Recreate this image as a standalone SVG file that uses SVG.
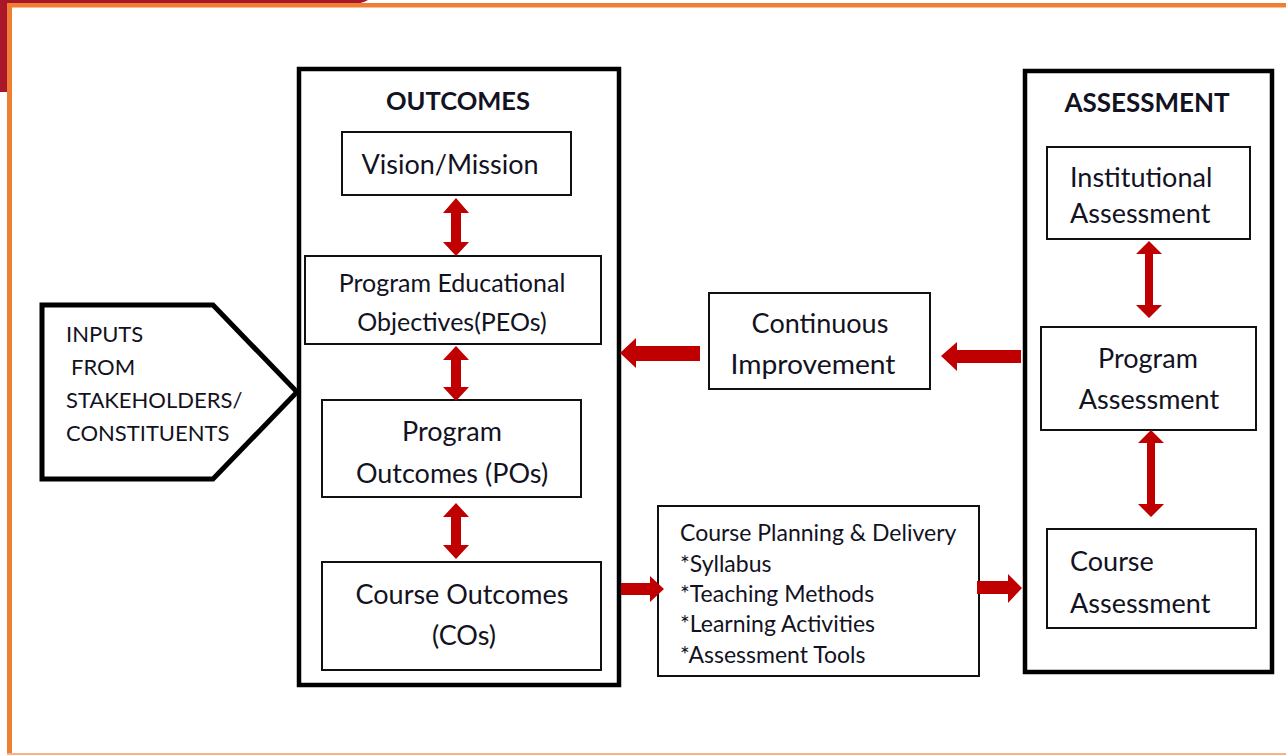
<svg xmlns="http://www.w3.org/2000/svg" width="1286" height="755" viewBox="0 0 1286 755">
<defs>
<style>
.t{font-family:Lato,"Open Sans","Liberation Sans",sans-serif;fill:#121222;}
.b{font-weight:bold;}
.m{text-anchor:middle;}
.f27{font-size:27px;}
.box{fill:#fff;stroke:#111;stroke-width:2;}
.big{fill:#fff;stroke:#000;stroke-width:4.5;}
.arr{fill:#c00000;}
</style>
</defs>
<rect width="1286" height="755" fill="#fff"/>
<path d="M0,0 H368 Q362,4 350,4 H10 V92 H0 Z" fill="#a8182a"/>
<rect x="7" y="3" width="1279" height="4.5" fill="#ef7f33"/>
<rect x="7" y="3" width="5" height="752" fill="#ef7f33"/>
<rect x="7" y="753" width="1279" height="2" fill="#f7b287"/>

<g id="inputs">
<polygon points="42,305 213,305 297,392 213,479 42,479" fill="#fff" stroke="#000" stroke-width="5" stroke-linejoin="miter"/>
<text class="t" x="66" y="342" font-size="22">INPUTS</text>
<text class="t" x="71" y="375" font-size="22">FROM</text>
<text class="t" x="66" y="408" font-size="22">STAKEHOLDERS/</text>
<text class="t" x="66" y="441" font-size="22">CONSTITUENTS</text>
</g>

<g id="outcomes">
<rect class="big" x="299" y="69" width="320" height="616"/>
<text class="t b m" x="458" y="110" font-size="25.5">OUTCOMES</text>
</g>
<g id="vision">
<rect class="box" x="342" y="132" width="229" height="63"/>
<text class="t m f27" x="450" y="174">Vision/Mission</text>
</g>
<g id="peo">
<rect class="box" x="305" y="256" width="296" height="88"/>
<text class="t m" x="452" y="292" font-size="25">Program Educational</text>
<text class="t m" x="452" y="331" font-size="25">Objectives(PEOs)</text>
</g>
<g id="po">
<rect class="box" x="322" y="400" width="259" height="97"/>
<text class="t m f27" x="452" y="441">Program</text>
<text class="t m f27" x="452" y="483">Outcomes (POs)</text>
</g>
<g id="co">
<rect class="box" x="322" y="562" width="279" height="108"/>
<text class="t m f27" x="462" y="604">Course Outcomes</text>
<text class="t m f27" x="464" y="645">(COs)</text>
</g>

<g id="ci">
<rect class="box" x="709" y="293" width="221" height="96"/>
<text class="t m f27" x="820" y="333">Continuous</text>
<text class="t m f27" x="813" y="374" textLength="165" lengthAdjust="spacingAndGlyphs">Improvement</text>
</g>

<g id="cpd">
<rect class="box" x="658" y="506" width="321" height="170"/>
<text class="t" x="680" y="541" font-size="23">Course Planning &amp; Delivery</text>
<text class="t" x="680" y="572" font-size="23">*Syllabus</text>
<text class="t" x="680" y="602" font-size="23">*Teaching Methods</text>
<text class="t" x="680" y="632" font-size="23">*Learning Activities</text>
<text class="t" x="680" y="663" font-size="23">*Assessment Tools</text>
</g>

<g id="assessment">
<rect class="big" x="1025" y="71" width="247" height="601"/>
<text class="t b m" x="1147" y="112" font-size="26">ASSESSMENT</text>
</g>
<g id="ia">
<rect class="box" x="1047" y="147" width="203" height="92"/>
<text class="t f27" x="1070" y="187">Institutional</text>
<text class="t f27" x="1070" y="223">Assessment</text>
</g>
<g id="pa">
<rect class="box" x="1041" y="327" width="215" height="103"/>
<text class="t m f27" x="1148" y="368">Program</text>
<text class="t m f27" x="1149" y="409">Assessment</text>
</g>
<g id="ca">
<rect class="box" x="1047" y="529" width="209" height="99"/>
<text class="t f27" x="1070" y="571">Course</text>
<text class="t f27" x="1070" y="613">Assessment</text>
</g>

<g id="connectors" class="arr">
<polygon points="456,198 469,213 461,213 461,242 469,242 456,256 443,242 451,242 451,213 443,213"/>
<polygon points="456,346 469,360 461,360 461,387 469,387 456,401 443,387 451,387 451,360 443,360"/>
<polygon points="456,503 469,517 461,517 461,545 469,545 456,559 443,545 451,545 451,517 443,517"/>
<polygon points="1149,241 1162,254 1153,254 1153,305 1162,305 1149,318 1136,305 1145,305 1145,254 1136,254"/>
<polygon points="1151,430 1164,443 1155,443 1155,504 1164,504 1151,517 1138,504 1147,504 1147,443 1138,443"/>
<polygon points="620,353 636,338 636,346 700,346 700,361 636,361 636,368"/>
<polygon points="941,356 957,342 957,350 1021,350 1021,363 957,363 957,371"/>
<polygon points="664,589 650,576 650,583 621,583 621,595 650,595 650,602"/>
<polygon points="1022,588 1008,574 1008,581 977,581 977,594 1008,594 1008,603"/>
</g>
</svg>
